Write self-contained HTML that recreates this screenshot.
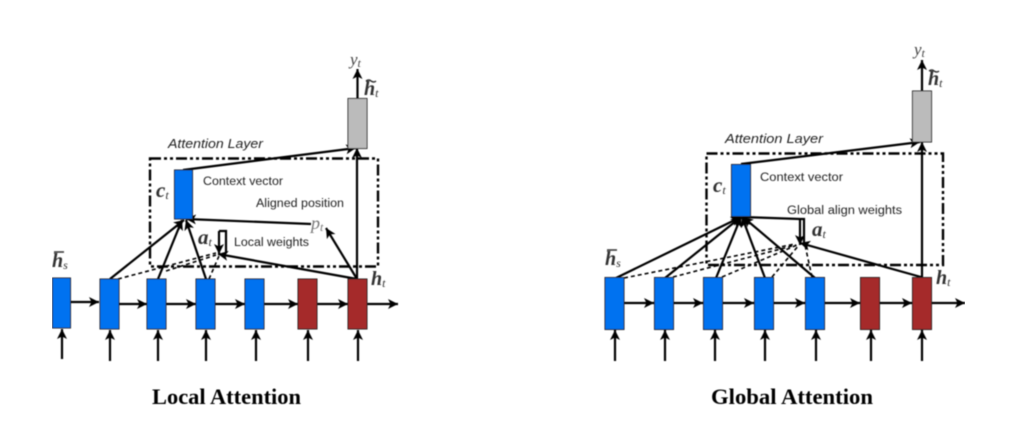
<!DOCTYPE html>
<html><head><meta charset="utf-8"><style>
html,body{margin:0;padding:0;background:#fff}
svg{display:block}
.s{font-family:"Liberation Sans",sans-serif;fill:#222}
.m{font-family:"Liberation Serif",serif;font-style:italic;fill:#444}
.b{font-family:"Liberation Serif",serif;font-style:italic;font-weight:bold;fill:#333}
.t{font-family:"Liberation Serif",serif;font-weight:bold;fill:#000;font-size:22px}
.sub{font-size:12px;font-weight:normal}
.l{stroke:#000;stroke-width:2.2;fill:none}
.a{marker-end:url(#ah)}
.d{stroke:#000;stroke-width:1.6;stroke-dasharray:4 3;fill:none}
.bx{stroke:#222;stroke-width:1}
.f{stroke:#000;stroke-width:2.4;stroke-dasharray:11 3 3 3 3 3;fill:none}
.o{stroke:#333;stroke-width:1.5;fill:none}
</style></head><body>
<svg width="1024" height="441" viewBox="0 0 1024 441" xmlns="http://www.w3.org/2000/svg">
<defs>
<marker id="ah" markerUnits="userSpaceOnUse" markerWidth="12" markerHeight="12" refX="10" refY="6" orient="auto"><path d="M0 1 L10 6 L0 11 L2.500 6 Z" fill="#000"/></marker>
<filter id="bl" x="0" y="0" width="100%" height="100%"><feGaussianBlur stdDeviation="0.4"/></filter>
</defs>
<g filter="url(#bl)">
<!-- LOCAL -->
<rect class="f" x="150" y="158.500" width="228" height="108"/>
<path class="d" d="M118 279 L216 253 M166 271 L216 255 M209 279 L219 256"/>
<g class="l">
<path class="a" d="M71 302 H99"/><path class="a" d="M119 304 H147"/><path class="a" d="M166 304 H196"/><path class="a" d="M215 304 H245"/><path class="a" d="M264 304 H298"/><path class="a" d="M317 304 H348"/><path class="a" d="M367 304 H398"/>
<path class="a" d="M62 359 V329"/><path class="a" d="M110 361 V330"/><path class="a" d="M158 361 V330"/><path class="a" d="M206 361 V330"/><path class="a" d="M256 361 V330"/><path class="a" d="M308 361 V330"/><path class="a" d="M358 361 V330"/>
<path class="a" d="M110 279 L184 220"/><path class="a" d="M158 279 L182 220"/><path class="a" d="M206 279 L186 220"/>
<path class="a" d="M311 224 L186 219"/><path class="a" d="M357 279 L326 228"/><path class="a" d="M357 279 L218 254"/>
<path class="a" d="M357 279 V148"/><path class="a" d="M183 170 L356 148"/><path class="a" d="M357.500 98 V69"/>
<path d="M219 231 H226 V252"/><path class="a" d="M219 231 V254"/>
</g>
<rect class="bx" x="52.500" y="278" width="18" height="50" fill="#0072f0"/>
<rect class="bx" x="100" y="279" width="19" height="50" fill="#0072f0"/>
<rect class="bx" x="147" y="279" width="19" height="50" fill="#0072f0"/>
<rect class="bx" x="196" y="279" width="19" height="50" fill="#0072f0"/>
<rect class="bx" x="245" y="279" width="19" height="50" fill="#0072f0"/>
<rect class="bx" x="298" y="279" width="19" height="50" fill="#a52a2a"/>
<rect class="bx" x="348" y="279" width="19" height="50" fill="#a52a2a"/>
<rect class="bx" x="348" y="98.500" width="19" height="50" fill="#bbb"/>
<rect class="bx" x="174.500" y="170" width="18" height="49" fill="#0072f0"/>
<text class="m" x="350" y="65" font-size="17">y<tspan class="sub" dy="2">t</tspan></text>
<text class="b" x="364" y="95" font-size="20">h<tspan class="sub" dy="2">t</tspan></text>
<path class="o" d="M366 81 q3 -2 5 0 q3 2 5 0"/>
<text class="s" x="168" y="148" font-size="13" font-style="italic" textLength="95" lengthAdjust="spacingAndGlyphs">Attention Layer</text>
<text class="b" x="156" y="197" font-size="21">c<tspan class="sub" dy="2">t</tspan></text>
<text class="s" x="203" y="185" font-size="11.500" textLength="80" lengthAdjust="spacingAndGlyphs">Context vector</text>
<text class="s" x="256" y="207" font-size="11.500" textLength="88" lengthAdjust="spacingAndGlyphs">Aligned position</text>
<text class="m" x="311" y="229" font-size="18" style="fill:#777">p<tspan class="sub" dy="2">t</tspan></text>
<text class="b" x="198" y="244" font-size="21">a<tspan class="sub" dy="2">t</tspan></text>
<text class="s" x="234" y="246" font-size="11.500" textLength="75" lengthAdjust="spacingAndGlyphs">Local weights</text>
<text class="b" x="52" y="267" font-size="20">h<tspan class="sub" dy="2">s</tspan></text>
<path class="o" d="M54 252 H64"/>
<text class="b" x="371" y="285" font-size="20">h<tspan class="sub" dy="2">t</tspan></text>
<text class="t" x="152" y="404" textLength="149" lengthAdjust="spacingAndGlyphs">Local Attention</text>

<!-- GLOBAL -->
<rect class="f" x="706.500" y="153.500" width="236.500" height="111.500"/>
<path class="d" d="M624 278 L795 244 M673 277 L796 245 M722 277 L797 245 M772 277 L799 245 M812 277 L805 245"/>
<g class="l">
<path class="a" d="M624 303 H654"/><path class="a" d="M674 303 H703"/><path class="a" d="M723 303 H754"/><path class="a" d="M774 303 H805"/><path class="a" d="M825 303 H860"/><path class="a" d="M880 303 H912"/><path class="a" d="M932 303 H965"/>
<path class="a" d="M615 361 V330"/><path class="a" d="M665 361 V330"/><path class="a" d="M715 361 V330"/><path class="a" d="M765 361 V330"/><path class="a" d="M816 361 V330"/><path class="a" d="M871 361 V330"/><path class="a" d="M922 361 V330"/>
<path class="a" d="M616 278 L741 217"/><path class="a" d="M665 278 L741 217"/><path class="a" d="M716 278 L741 217"/><path class="a" d="M765 278 L742 217"/><path class="a" d="M815 278 L743 217"/>
<path class="a" d="M921 277 L800 243"/><path class="a" d="M922 277 V142"/><path class="a" d="M741 164 L920 142"/><path class="a" d="M922 91 V60"/>
<path d="M742 217 L800 219 H804 V243"/><path class="a" d="M800 219 V245"/>
</g>
<rect class="bx" x="605" y="277.500" width="19" height="52" fill="#0072f0"/>
<rect class="bx" x="654.500" y="277.500" width="19" height="52" fill="#0072f0"/>
<rect class="bx" x="703.500" y="277.500" width="19" height="52" fill="#0072f0"/>
<rect class="bx" x="754.500" y="277.500" width="19" height="52" fill="#0072f0"/>
<rect class="bx" x="805.500" y="277.500" width="19" height="52" fill="#0072f0"/>
<rect class="bx" x="860.500" y="277.500" width="19" height="52" fill="#a52a2a"/>
<rect class="bx" x="912.500" y="277.500" width="19" height="52" fill="#a52a2a"/>
<rect class="bx" x="912.500" y="91" width="19" height="51" fill="#bbb"/>
<rect class="bx" x="731.500" y="164.500" width="19" height="52" fill="#0072f0"/>
<text class="m" x="914" y="55" font-size="17">y<tspan class="sub" dy="2">t</tspan></text>
<text class="b" x="928" y="85" font-size="20">h<tspan class="sub" dy="2">t</tspan></text>
<path class="o" d="M929 71 q3 -2 5 0 q3 2 5 0"/>
<text class="s" x="725" y="143" font-size="13" font-style="italic" textLength="98" lengthAdjust="spacingAndGlyphs">Attention Layer</text>
<text class="b" x="713" y="192" font-size="21">c<tspan class="sub" dy="2">t</tspan></text>
<text class="s" x="760" y="181" font-size="11.500" textLength="83" lengthAdjust="spacingAndGlyphs">Context vector</text>
<text class="s" x="787" y="214" font-size="11.500" textLength="115" lengthAdjust="spacingAndGlyphs">Global align weights</text>
<text class="b" x="812" y="236" font-size="21">a<tspan class="sub" dy="2">t</tspan></text>
<text class="b" x="605" y="265" font-size="20">h<tspan class="sub" dy="2">s</tspan></text>
<path class="o" d="M607 250 H617"/>
<text class="b" x="936" y="284" font-size="20">h<tspan class="sub" dy="2">t</tspan></text>
<text class="t" x="711" y="404" textLength="162" lengthAdjust="spacingAndGlyphs">Global Attention</text>
</g>
</svg>
</body></html>
